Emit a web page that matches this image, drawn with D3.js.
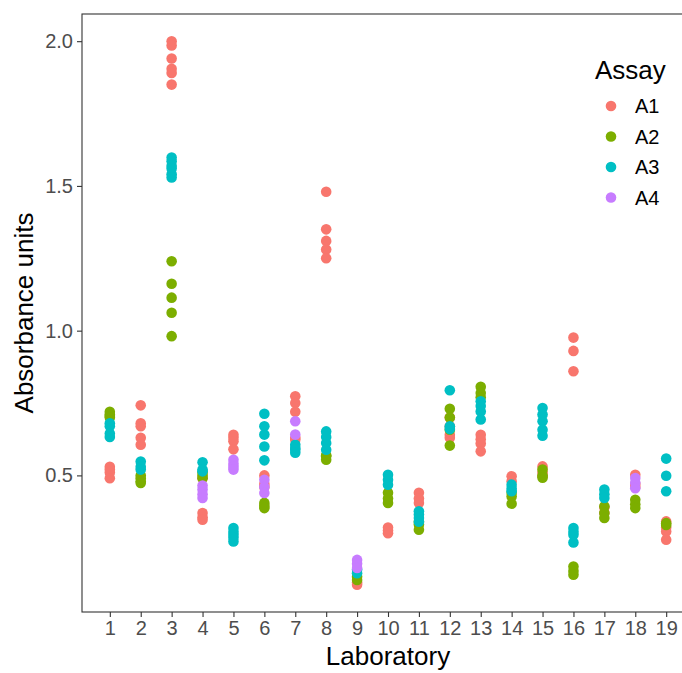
<!DOCTYPE html>
<html>
<head>
<meta charset="utf-8">
<script src="https://cdn.jsdelivr.net/npm/d3@7"></script>
<style>
  body { margin: 0; background: #fff; }
  svg { display: block; font-family: "Liberation Sans", Arial, sans-serif; }
</style>
</head>
<body>
<div id="chart"></div>
<script>
// values per laboratory (index 0 = lab 1)
var labs = d3.range(1, 20);
var assays = ['A1', 'A2', 'A3', 'A4'];
var colors = ['#F8766D', '#7CAE00', '#00BFC4', '#C77CFF'];

var a1 = [
  [0.53, 0.52, 0.51, 0.49],
  [0.742, 0.68, 0.67, 0.63, 0.606],
  [2.0, 1.985, 1.94, 1.905, 1.89, 1.85],
  [0.49, 0.37, 0.355, 0.347],
  [0.64, 0.63, 0.618, 0.59],
  [0.5, 0.47, 0.46],
  [0.773, 0.75, 0.72, 0.63, 0.623],
  [1.48, 1.35, 1.31, 1.28, 1.25],
  [0.13, 0.122],
  [0.32, 0.31, 0.3],
  [0.44, 0.42, 0.405],
  [0.7, 0.67, 0.64, 0.63],
  [0.64, 0.625, 0.61, 0.583],
  [0.497, 0.48],
  [0.531, 0.51, 0.497],
  [0.976, 0.93, 0.86],
  [0.39, 0.37],
  [0.502, 0.47, 0.46],
  [0.341, 0.32, 0.306, 0.278]
];
var a2 = [
  [0.72, 0.71, 0.705, 0.7],
  [0.5, 0.49, 0.48, 0.474],
  [1.24, 1.162, 1.114, 1.062, 0.981],
  [0.51, 0.5, 0.49],
  [],
  [0.405, 0.395, 0.387],
  [],
  [0.57, 0.566, 0.554],
  [0.15, 0.139],
  [0.44, 0.42, 0.405],
  [0.34, 0.33, 0.312],
  [0.73, 0.7, 0.658, 0.603],
  [0.806, 0.785, 0.77],
  [0.44, 0.427, 0.402],
  [0.52, 0.5, 0.492],
  [0.185, 0.17, 0.157],
  [0.393, 0.37, 0.353],
  [0.416, 0.4, 0.387],
  [0.335, 0.329]
];
var a3 = [
  [0.68, 0.67, 0.645, 0.633],
  [0.548, 0.53, 0.52],
  [1.598, 1.585, 1.57, 1.56, 1.54, 1.529],
  [0.545, 0.52, 0.514],
  [0.318, 0.305, 0.295, 0.285, 0.272],
  [0.713, 0.67, 0.641, 0.6, 0.552],
  [0.606, 0.595, 0.589, 0.578],
  [0.652, 0.633, 0.612, 0.589],
  [0.175, 0.162],
  [0.502, 0.485, 0.468],
  [0.376, 0.365, 0.353, 0.34],
  [0.794, 0.67, 0.66],
  [0.756, 0.74, 0.721, 0.693],
  [0.468, 0.455, 0.445],
  [0.733, 0.71, 0.687, 0.658, 0.637],
  [0.318, 0.305, 0.295, 0.268],
  [0.451, 0.435, 0.422],
  [],
  [0.558, 0.499, 0.445]
];
var a4 = [
  [], [], [],
  [0.465, 0.451, 0.435, 0.422],
  [0.554, 0.54, 0.53, 0.52],
  [0.485, 0.46, 0.439],
  [0.687, 0.641],
  [],
  [0.208, 0.195, 0.18],
  [], [], [], [], [], [], [], [],
  [0.491, 0.475, 0.456],
  []
];
var yTicks = [0.5, 1.0, 1.5, 2.0];

var width = 682, height = 673;
var margin = {top: 14, right: -12, bottom: 61, left: 82};

var points = [];
[a1, a2, a3, a4].forEach(function(series, i) {
  series.forEach(function(vals, j) {
    vals.forEach(function(v) {
      points.push({lab: labs[j], value: v, assay: assays[i]});
    });
  });
});

// ggplot-like 5% expansion
function expand(ext) {
  var pad = (ext[1] - ext[0]) * 0.05;
  return [ext[0] - pad, ext[1] + pad];
}

var x = d3.scaleLinear()
  .domain(expand(d3.extent(labs)))
  .range([margin.left, width - margin.right]);
var y = d3.scaleLinear()
  .domain(expand(d3.extent(points, function(d) { return d.value; })))
  .range([height - margin.bottom, margin.top]);
var color = d3.scaleOrdinal().domain(assays).range(colors);

var svg = d3.select('#chart').append('svg')
  .attr('width', width)
  .attr('height', height);

var xAxis = svg.append('g')
  .attr('transform', 'translate(0,' + (height - margin.bottom) + ')')
  .call(d3.axisBottom(x).tickValues(labs).tickFormat(d3.format('d'))
    .tickSize(5).tickPadding(4).tickSizeOuter(0));
var yAxis = svg.append('g')
  .attr('transform', 'translate(' + margin.left + ',0)')
  .call(d3.axisLeft(y).tickValues(yTicks).tickFormat(d3.format('.1f'))
    .tickSize(5).tickPadding(4).tickSizeOuter(0));

[xAxis, yAxis].forEach(function(g) {
  g.select('.domain').remove();
  g.selectAll('.tick line').attr('stroke', '#333333').attr('stroke-width', 1.1);
  g.selectAll('.tick text').attr('fill', '#4D4D4D').style('font-size', '20px');
});

// panel border
svg.append('rect')
  .attr('x', margin.left)
  .attr('y', margin.top)
  .attr('width', width - margin.right - margin.left)
  .attr('height', height - margin.bottom - margin.top)
  .attr('fill', 'none')
  .attr('stroke', '#333333')
  .attr('stroke-width', 1.1);

svg.append('g').selectAll('circle')
  .data(points)
  .enter()
  .append('circle')
    .attr('cx', function(d) { return x(d.lab); })
    .attr('cy', function(d) { return y(d.value); })
    .attr('r', 5.3)
    .attr('fill', function(d) { return color(d.assay); });

svg.append('text')
  .attr('transform', 'translate(33,' + ((margin.top + height - margin.bottom) / 2) + ') rotate(-90)')
  .attr('text-anchor', 'middle')
  .style('font-size', '26px')
  .text('Absorbance units');

svg.append('text')
  .attr('x', (margin.left + width - margin.right) / 2)
  .attr('y', 665)
  .attr('text-anchor', 'middle')
  .style('font-size', '26px')
  .text('Laboratory');

// legend
var legend = svg.append('g').attr('transform', 'translate(595,0)');
legend.append('text')
  .attr('x', 0)
  .attr('y', 79)
  .style('font-size', '26px')
  .text('Assay');
var item = legend.selectAll('.item')
  .data(assays)
  .enter()
  .append('g')
    .attr('class', 'item')
    .attr('transform', function(d, i) { return 'translate(0,' + (106 + i * 30.5) + ')'; });
item.append('circle')
  .attr('cx', 16)
  .attr('r', 5.3)
  .attr('fill', function(d) { return color(d); });
item.append('text')
  .attr('x', 40)
  .attr('dy', '0.36em')
  .style('font-size', '20px')
  .text(function(d) { return d; });
</script>
</body>
</html>
